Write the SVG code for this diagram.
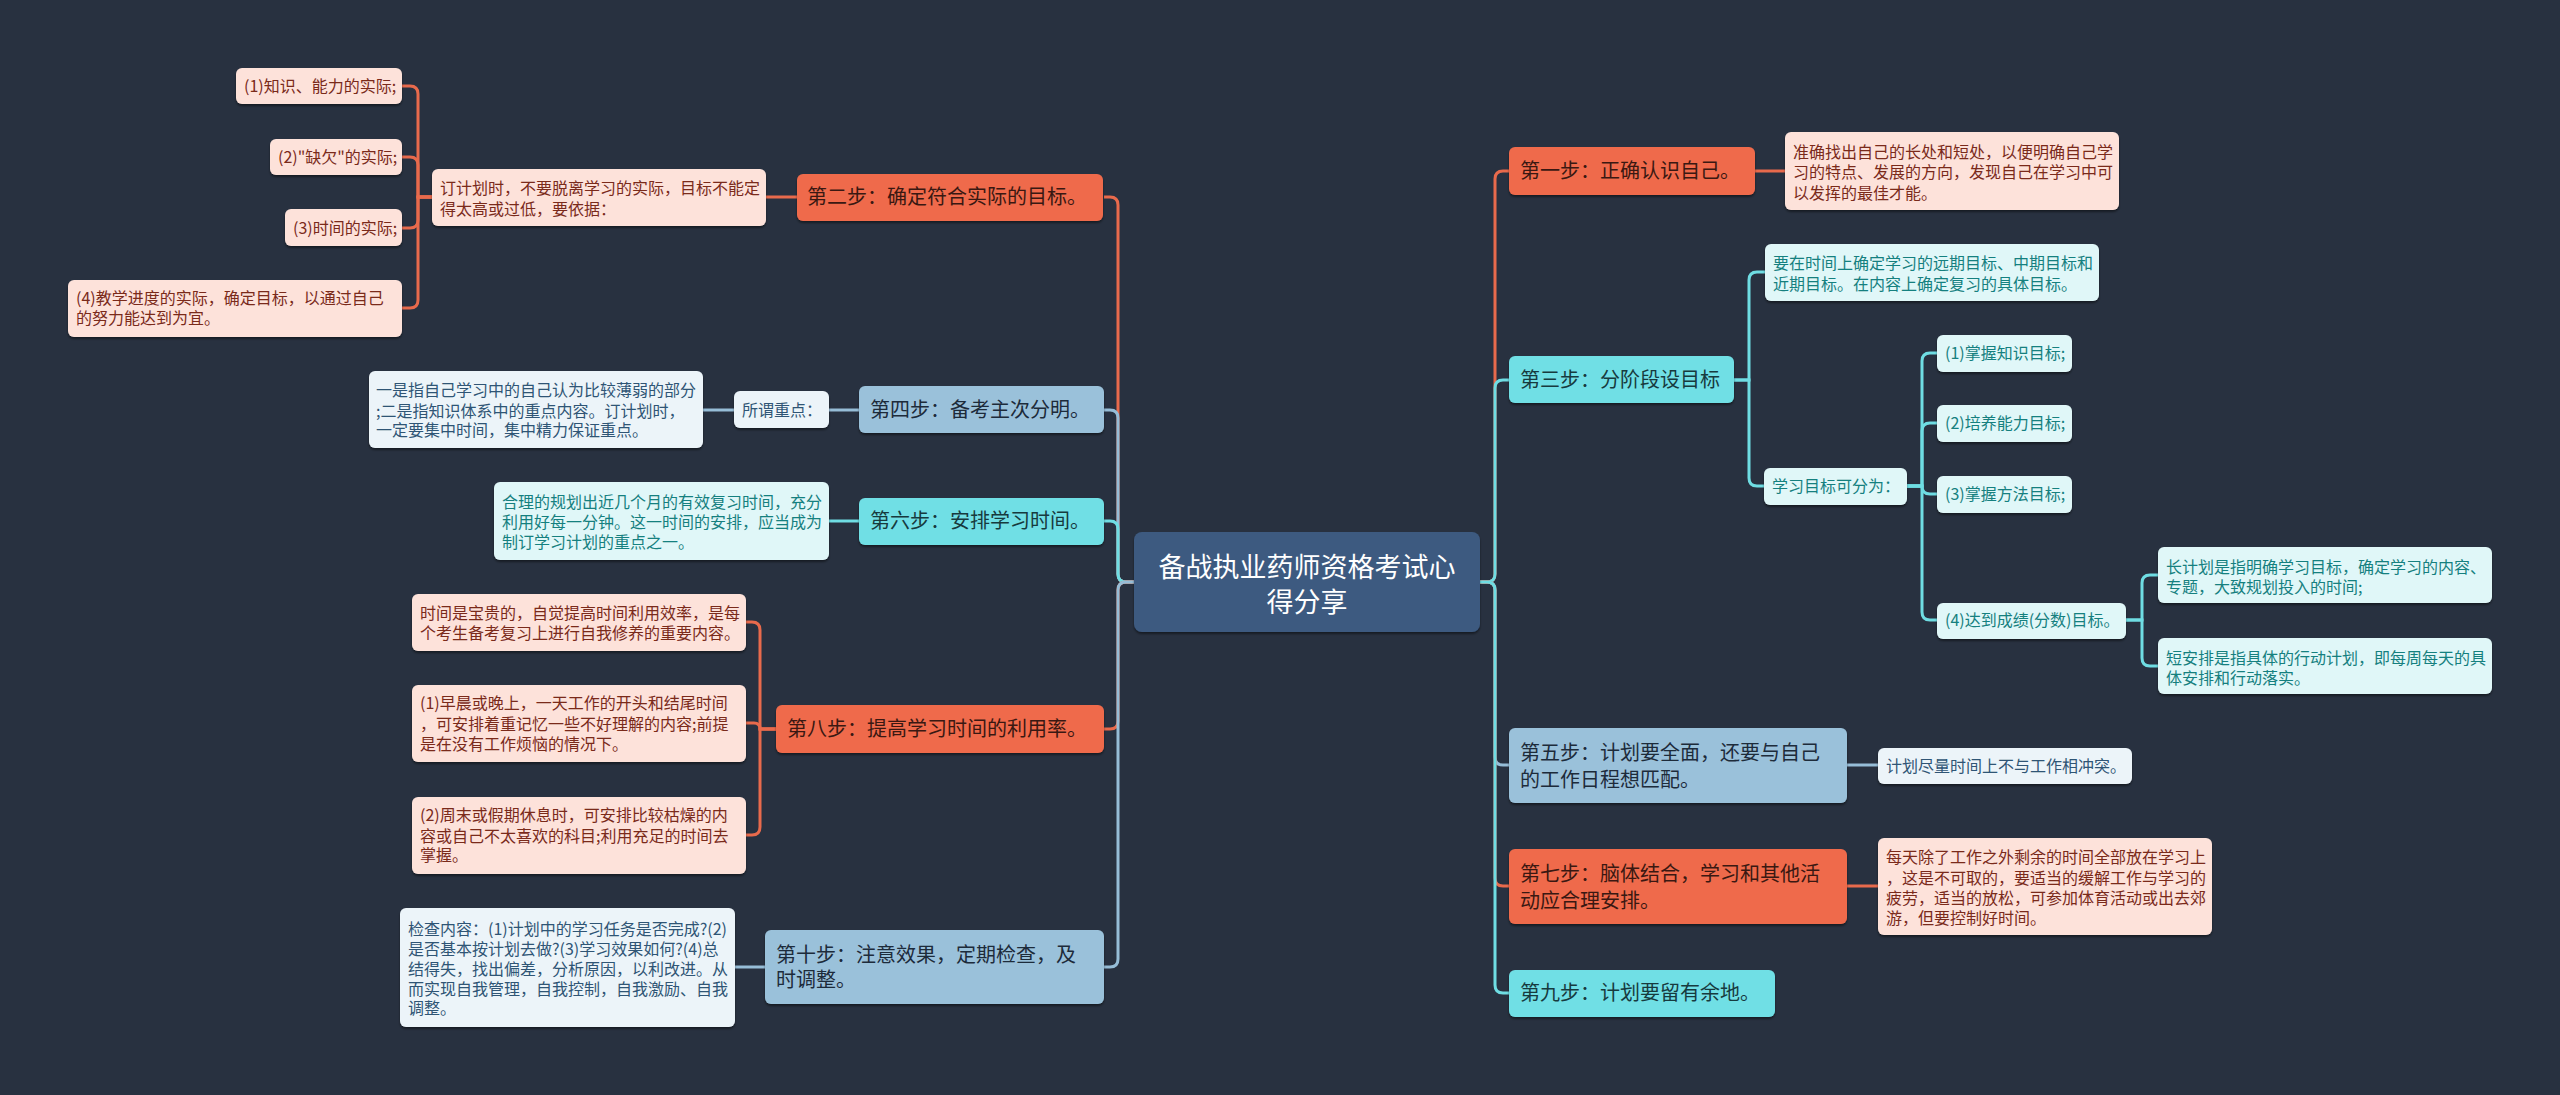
<svg xmlns="http://www.w3.org/2000/svg" width="2560" height="1095" viewBox="0 0 2560 1095">
<defs>
<filter id="sh" x="-5%" y="-10%" width="110%" height="130%"><feDropShadow dx="0" dy="2" stdDeviation="1" flood-color="#000" flood-opacity="0.45"/></filter>
<style>
text{font-family:"Noto Sans CJK SC","Noto Sans",sans-serif}
rect{filter:url(#sh)}
.root{fill:#3d5a80}
.bo{fill:#ef6a4b}.lo{fill:#fde2da}
.bb{fill:#9ac1da}.lb{fill:#ecf4f9}
.bc{fill:#70dfe5}.lc{fill:#e0f7f8}
.t0{font-size:27px;fill:#ffffff;text-anchor:middle}
.tbo{font-size:20px;fill:#3a1812}
.tbb{font-size:20px;fill:#1d2b3a}
.tbc{font-size:20px;fill:#173a3e}
.tlo{font-size:16px;fill:#7a2a1a}
.tlb{font-size:16px;fill:#2f5575}
.tlc{font-size:16px;fill:#15807f}
.co{fill:none;stroke:#e86a4c;stroke-width:3}
.cb{fill:none;stroke:#96bdd7;stroke-width:3}
.cc{fill:none;stroke:#6fdde3;stroke-width:3}
</style>
</defs>
<rect x="0" y="0" width="2560" height="1095" fill="#283140" style="filter:none"/>
<g id="connectors">
<!-- left main -->
<path class="co" d="M1104,197 H1110 Q1118,197 1118,205 V574 Q1118,582 1126,582 H1134"/>
<path class="cb" d="M1104,410 H1110 Q1118,410 1118,418 V574 Q1118,582 1126,582 H1134"/>
<path class="cc" d="M1104,521 H1110 Q1118,521 1118,529 V574 Q1118,582 1126,582 H1134"/>
<path class="co" d="M1104,729 H1110 Q1118,729 1118,721 V590 Q1118,582 1126,582 H1134"/>
<path class="cb" d="M1104,967 H1110 Q1118,967 1118,959 V590 Q1118,582 1126,582 H1134"/>
<!-- right main -->
<path class="co" d="M1480,582 H1487 Q1495,582 1495,574 V179 Q1495,171 1503,171 H1509"/>
<path class="cc" d="M1480,582 H1487 Q1495,582 1495,574 V388 Q1495,380 1503,380 H1509"/>
<path class="cb" d="M1480,582 H1487 Q1495,582 1495,590 V757 Q1495,765 1503,765 H1509"/>
<path class="co" d="M1480,582 H1487 Q1495,582 1495,590 V878 Q1495,886 1503,886 H1509"/>
<path class="cc" d="M1480,582 H1487 Q1495,582 1495,590 V985 Q1495,993 1503,993 H1509"/>
<!-- left sub -->
<path class="co" d="M797,197 H766"/>
<path class="co" d="M432,197 H418 V94 Q418,86 410,86 H402"/>
<path class="co" d="M432,197 H418 V165 Q418,157 410,157 H402"/>
<path class="co" d="M432,197 H418 V220 Q418,228 410,228 H402"/>
<path class="co" d="M432,197 H418 V300 Q418,308 410,308 H402"/>
<path class="cb" d="M859,410 H829"/>
<path class="cb" d="M734,410 H703"/>
<path class="cc" d="M859,521 H829"/>
<path class="co" d="M776,729 H760 V630 Q760,622 752,622 H746"/>
<path class="co" d="M776,729 H760 Q760,723 754,723 H746"/>
<path class="co" d="M776,729 H760 V827 Q760,835 752,835 H746"/>
<path class="cb" d="M765,967 H735"/>
<!-- right sub -->
<path class="co" d="M1755,171 H1785"/>
<path class="cc" d="M1734,380 H1749 V280 Q1749,272 1757,272 H1765"/>
<path class="cc" d="M1734,380 H1749 V478 Q1749,486 1757,486 H1764"/>
<path class="cc" d="M1907,486 H1922 V361 Q1922,353 1930,353 H1937"/>
<path class="cc" d="M1907,486 H1922 V431 Q1922,423 1930,423 H1937"/>
<path class="cc" d="M1907,486 H1922 Q1922,494 1930,494 H1937"/>
<path class="cc" d="M1907,486 H1922 V612 Q1922,620 1930,620 H1937"/>
<path class="cc" d="M2126,620 H2142 V583 Q2142,575 2150,575 H2158"/>
<path class="cc" d="M2126,620 H2142 V658 Q2142,666 2150,666 H2158"/>
<path class="cb" d="M1847,765 H1878"/>
<path class="co" d="M1847,886 H1878"/>
</g>

<g id="root"><rect class="root" x="1134" y="532" width="346" height="100" rx="8"/>
<text class="t0" x="1307" y="577">备战执业药师资格考试心</text><text class="t0" x="1307" y="612">得分享</text></g>

<g id="n-step2"><rect class="bo" x="797" y="174" width="306" height="47" rx="6"/><text class="tbo" x="807" y="204">第二步：确定符合实际的目标。</text></g>
<g id="n-step2-a"><rect class="lo" x="432" y="169" width="334" height="57" rx="6"/><text class="tlo" x="440" y="194">订计划时，不要脱离学习的实际，目标不能定</text><text class="tlo" x="440" y="215">得太高或过低，要依据：</text></g>
<g id="n-step2-1"><rect class="lo" x="236" y="68" width="166" height="36" rx="6"/><text class="tlo" x="244" y="92">(1)知识、能力的实际;</text></g>
<g id="n-step2-2"><rect class="lo" x="270" y="139" width="132" height="36" rx="6"/><text class="tlo" x="278" y="163">(2)"缺欠"的实际;</text></g>
<g id="n-step2-3"><rect class="lo" x="285" y="209" width="117" height="37" rx="6"/><text class="tlo" x="293" y="234">(3)时间的实际;</text></g>
<g id="n-step2-4"><rect class="lo" x="68" y="280" width="334" height="57" rx="6"/><text class="tlo" x="76" y="304">(4)教学进度的实际，确定目标，以通过自己</text><text class="tlo" x="76" y="324">的努力能达到为宜。</text></g>

<g id="n-step4"><rect class="bb" x="859" y="386" width="245" height="47" rx="6"/><text class="tbb" x="870" y="417">第四步：备考主次分明。</text></g>
<g id="n-step4-a"><rect class="lb" x="734" y="391" width="95" height="37" rx="6"/><text class="tlb" x="742" y="416">所谓重点：</text></g>
<g id="n-step4-b"><rect class="lb" x="369" y="371" width="334" height="77" rx="6"/><text class="tlb" x="376" y="396">一是指自己学习中的自己认为比较薄弱的部分</text><text class="tlb" x="376" y="417">;二是指知识体系中的重点内容。订计划时，</text><text class="tlb" x="376" y="436">一定要集中时间，集中精力保证重点。</text></g>

<g id="n-step6"><rect class="bc" x="859" y="498" width="245" height="47" rx="6"/><text class="tbc" x="870" y="528">第六步：安排学习时间。</text></g>
<g id="n-step6-a"><rect class="lc" x="494" y="482" width="335" height="78" rx="6"/><text class="tlc" x="502" y="508">合理的规划出近几个月的有效复习时间，充分</text><text class="tlc" x="502" y="528">利用好每一分钟。这一时间的安排，应当成为</text><text class="tlc" x="502" y="548">制订学习计划的重点之一。</text></g>

<g id="n-step8"><rect class="bo" x="776" y="705" width="328" height="48" rx="6"/><text class="tbo" x="787" y="736">第八步：提高学习时间的利用率。</text></g>
<g id="n-step8-a"><rect class="lo" x="412" y="594" width="334" height="57" rx="6"/><text class="tlo" x="420" y="619">时间是宝贵的，自觉提高时间利用效率，是每</text><text class="tlo" x="420" y="639">个考生备考复习上进行自我修养的重要内容。</text></g>
<g id="n-step8-b"><rect class="lo" x="412" y="685" width="334" height="77" rx="6"/><text class="tlo" x="420" y="709">(1)早晨或晚上，一天工作的开头和结尾时间</text><text class="tlo" x="420" y="730">，可安排着重记忆一些不好理解的内容;前提</text><text class="tlo" x="420" y="750">是在没有工作烦恼的情况下。</text></g>
<g id="n-step8-c"><rect class="lo" x="412" y="797" width="334" height="77" rx="6"/><text class="tlo" x="420" y="821">(2)周末或假期休息时，可安排比较枯燥的内</text><text class="tlo" x="420" y="842">容或自己不太喜欢的科目;利用充足的时间去</text><text class="tlo" x="420" y="861">掌握。</text></g>

<g id="n-step10"><rect class="bb" x="765" y="930" width="339" height="74" rx="6"/><text class="tbb" x="776" y="962">第十步：注意效果，定期检查，及</text><text class="tbb" x="776" y="987">时调整。</text></g>
<g id="n-step10-a"><rect class="lb" x="400" y="908" width="335" height="119" rx="6"/><text class="tlb" x="408" y="935">检查内容：(1)计划中的学习任务是否完成?(2)</text><text class="tlb" x="408" y="955">是否基本按计划去做?(3)学习效果如何?(4)总</text><text class="tlb" x="408" y="975">结得失，找出偏差，分析原因，以利改进。从</text><text class="tlb" x="408" y="995">而实现自我管理，自我控制，自我激励、自我</text><text class="tlb" x="408" y="1014">调整。</text></g>

<g id="n-step1"><rect class="bo" x="1509" y="147" width="246" height="48" rx="6"/><text class="tbo" x="1520" y="178">第一步：正确认识自己。</text></g>
<g id="n-step1-a"><rect class="lo" x="1785" y="132" width="334" height="78" rx="6"/><text class="tlo" x="1793" y="158">准确找出自己的长处和短处，以便明确自己学</text><text class="tlo" x="1793" y="178">习的特点、发展的方向，发现自己在学习中可</text><text class="tlo" x="1793" y="199">以发挥的最佳才能。</text></g>

<g id="n-step3"><rect class="bc" x="1509" y="356" width="225" height="47" rx="6"/><text class="tbc" x="1520" y="387">第三步：分阶段设目标</text></g>
<g id="n-step3-a"><rect class="lc" x="1765" y="244" width="334" height="57" rx="6"/><text class="tlc" x="1773" y="269">要在时间上确定学习的远期目标、中期目标和</text><text class="tlc" x="1773" y="290">近期目标。在内容上确定复习的具体目标。</text></g>
<g id="n-step3-b"><rect class="lc" x="1764" y="468" width="143" height="37" rx="6"/><text class="tlc" x="1772" y="492">学习目标可分为：</text></g>
<g id="n-step3-b1"><rect class="lc" x="1937" y="335" width="135" height="37" rx="6"/><text class="tlc" x="1945" y="359">(1)掌握知识目标;</text></g>
<g id="n-step3-b2"><rect class="lc" x="1937" y="405" width="135" height="37" rx="6"/><text class="tlc" x="1945" y="429">(2)培养能力目标;</text></g>
<g id="n-step3-b3"><rect class="lc" x="1937" y="476" width="135" height="37" rx="6"/><text class="tlc" x="1945" y="500">(3)掌握方法目标;</text></g>
<g id="n-step3-b4"><rect class="lc" x="1937" y="603" width="189" height="36" rx="6"/><text class="tlc" x="1945" y="626">(4)达到成绩(分数)目标。</text></g>
<g id="n-step3-b4a"><rect class="lc" x="2158" y="547" width="334" height="56" rx="6"/><text class="tlc" x="2166" y="573">长计划是指明确学习目标，确定学习的内容、</text><text class="tlc" x="2166" y="593">专题，大致规划投入的时间;</text></g>
<g id="n-step3-b4b"><rect class="lc" x="2158" y="638" width="334" height="56" rx="6"/><text class="tlc" x="2166" y="664">短安排是指具体的行动计划，即每周每天的具</text><text class="tlc" x="2166" y="684">体安排和行动落实。</text></g>

<g id="n-step5"><rect class="bb" x="1509" y="728" width="338" height="75" rx="6"/><text class="tbb" x="1520" y="760">第五步：计划要全面，还要与自己</text><text class="tbb" x="1520" y="787">的工作日程想匹配。</text></g>
<g id="n-step5-a"><rect class="lb" x="1878" y="748" width="254" height="36" rx="6"/><text class="tlb" x="1886" y="772">计划尽量时间上不与工作相冲突。</text></g>

<g id="n-step7"><rect class="bo" x="1509" y="849" width="338" height="75" rx="6"/><text class="tbo" x="1520" y="881">第七步：脑体结合，学习和其他活</text><text class="tbo" x="1520" y="908">动应合理安排。</text></g>
<g id="n-step7-a"><rect class="lo" x="1878" y="838" width="334" height="97" rx="6"/><text class="tlo" x="1886" y="863">每天除了工作之外剩余的时间全部放在学习上</text><text class="tlo" x="1886" y="884">，这是不可取的，要适当的缓解工作与学习的</text><text class="tlo" x="1886" y="904">疲劳，适当的放松，可参加体育活动或出去郊</text><text class="tlo" x="1886" y="924">游，但要控制好时间。</text></g>

<g id="n-step9"><rect class="bc" x="1509" y="970" width="266" height="47" rx="6"/><text class="tbc" x="1520" y="1000">第九步：计划要留有余地。</text></g>
</svg>
